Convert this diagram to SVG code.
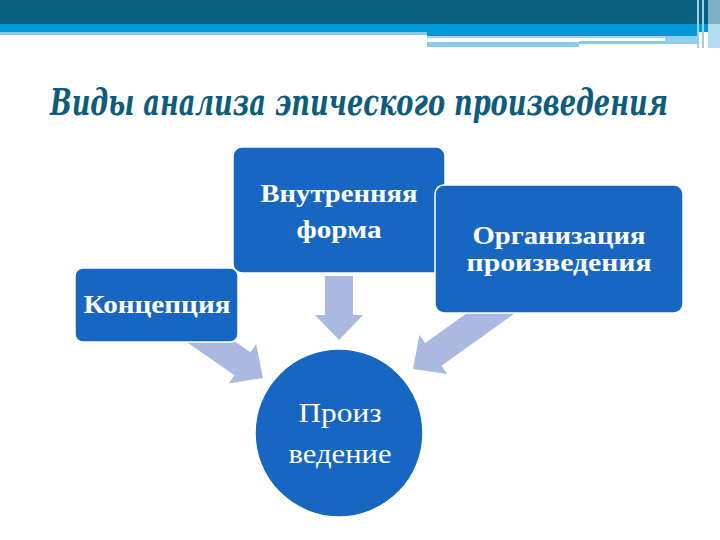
<svg xmlns="http://www.w3.org/2000/svg" width="720" height="540" viewBox="0 0 720 540">
<style>
.box{fill:#1767C2;stroke:#FFFFFF;stroke-width:1.5}
.arrow{fill:#A9B9DF}
.bt{font-family:"Liberation Serif","Times New Roman",serif;font-weight:bold;font-size:26px;fill:#FFFFFF;text-anchor:middle}
.ct{font-family:"Liberation Serif","Times New Roman",serif;font-size:28px;fill:#FFFFFF;text-anchor:middle}
</style>
<rect width="720" height="540" fill="#FFFFFF"/>
<g id="header">
<rect x="0" y="0" width="720" height="24" fill="#075F7D"/>
<rect x="0" y="24" width="720" height="8" fill="#0099D7"/>
<rect x="0" y="32" width="427" height="3" fill="#8CC9E9"/>
<rect x="427" y="32" width="270" height="4" fill="#0099D7"/>
<rect x="427" y="36" width="270" height="2" fill="#A3D8EF"/>
<rect x="427" y="42" width="152" height="5" fill="#8DCAE8"/>
<rect x="579" y="41" width="86" height="3" fill="#86CFDA"/>
<rect x="665" y="36" width="32" height="8" fill="#8FD0F0"/>
<rect x="697" y="0" width="2" height="48" fill="#9CCFE6"/>
<rect x="702" y="0" width="2" height="48" fill="#9CCFE6"/>
<rect x="708" y="0" width="12" height="24" fill="#7FAFC4"/>
<rect x="708" y="24" width="12" height="24" fill="#B5DDF2"/>
</g>
<text id="title" x="359" y="115" font-family="'DejaVu Serif','Liberation Serif',serif" font-style="italic" font-weight="bold" font-size="38" fill="#0E5C7C" text-anchor="middle" textLength="618" lengthAdjust="spacingAndGlyphs">Виды анализа эпического произведения</text>
<g id="connectors">
<polygon class="arrow" points="-64,-14 -25,-14 -25,-24 0,0 -25,24 -25,14 -64,14" transform="translate(339,340) rotate(90)"/>
<polygon class="arrow" points="-90,-14 -25,-14 -25,-24 0,0 -25,24 -25,14 -90,14" transform="translate(263,378) rotate(34.8)"/>
<polygon class="arrow" points="-120,-14 -25,-14 -25,-24 0,0 -25,24 -25,14 -120,14" transform="translate(413,369) rotate(144.4)"/>
</g>
<g id="node-vnutrennyaya">
<rect class="box" x="233" y="147" width="212" height="126" rx="9"/>
<text class="bt" x="339" y="202" textLength="157" lengthAdjust="spacingAndGlyphs">Внутренняя</text>
<text class="bt" x="339" y="238" textLength="85" lengthAdjust="spacingAndGlyphs">форма</text>
</g>
<g id="node-organizatsiya">
<rect class="box" x="435" y="185" width="248" height="128" rx="9"/>
<text class="bt" x="559" y="244" textLength="173" lengthAdjust="spacingAndGlyphs">Организация</text>
<text class="bt" x="559" y="271" textLength="185" lengthAdjust="spacingAndGlyphs">произведения</text>
</g>
<g id="node-kontseptsiya">
<rect class="box" x="75" y="268" width="163" height="74" rx="8"/>
<text class="bt" x="157" y="313" textLength="147" lengthAdjust="spacingAndGlyphs">Концепция</text>
</g>
<g id="node-proizvedenie">
<circle cx="339" cy="433" r="84" fill="#1767C2" stroke="#FFFFFF" stroke-width="1.5"/>
<text class="ct" x="340" y="422" textLength="83" lengthAdjust="spacingAndGlyphs">Произ</text>
<text class="ct" x="340" y="463" textLength="103" lengthAdjust="spacingAndGlyphs">ведение</text>
</g>
</svg>
